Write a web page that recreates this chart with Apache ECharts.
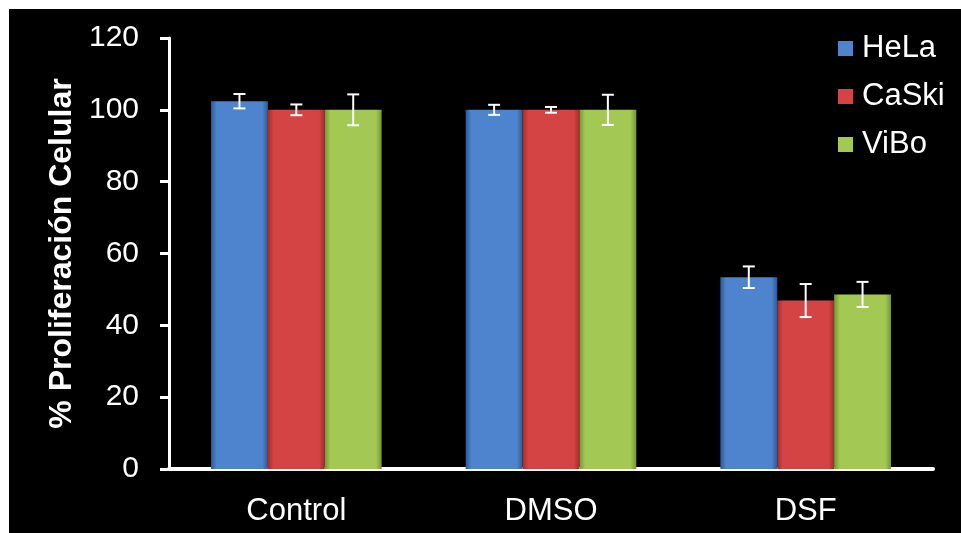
<!DOCTYPE html>
<html>
<head>
<meta charset="utf-8">
<script src="https://cdn.jsdelivr.net/npm/echarts@6/dist/echarts.min.js"></script>
<style>
html,body{margin:0;padding:0;background:#fff;width:961px;height:533px;overflow:hidden;}
#chart{position:absolute;left:9px;top:9px;width:952px;height:524px;background:#000;}
</style>
</head>
<body>
<div id="chart"></div>
<script>
const categories = ['Control', 'DMSO', 'DSF'];
const seriesNames = ['HeLa', 'CaSki', 'ViBo'];
const helaValues = [102.4, 100, 53.4];
const caskiValues = [100, 100, 46.9];
const viboValues = [100, 100, 48.6];
const helaErrors = [2.0, 1.4, 3.0];
const caskiErrors = [1.5, 0.8, 4.6];
const viboErrors = [4.3, 4.2, 3.5];
const yTicks = [0, 20, 40, 60, 80, 100, 120];

const values = [helaValues, caskiValues, viboValues];
const errors = [helaErrors, caskiErrors, viboErrors];
const colors = [
  {edge: '#2c5a96', mid: '#4d84cd', light: '#6a9be0'},
  {edge: '#a02c2c', mid: '#d54444', light: '#e46262'},
  {edge: '#769537', mid: '#a3c854', light: '#b8db6c'}
];
const FONT = 'Liberation Sans, Arial, sans-serif';

const chart = echarts.init(document.getElementById('chart'));
const barGapPct = 33;

function grad(c) {
  return new echarts.graphic.LinearGradient(0, 0, 1, 0, [
    {offset: 0, color: c.edge},
    {offset: 0.1, color: c.mid},
    {offset: 0.5, color: c.mid},
    {offset: 0.9, color: c.mid},
    {offset: 1, color: c.edge}
  ]);
}

const series = [];
seriesNames.forEach((name, i) => {
  series.push({
    name: name,
    type: 'bar',
    data: values[i],
    barGap: '0%',
    barCategoryGap: barGapPct + '%',
    itemStyle: {color: grad(colors[i])},
    z: 2
  });
});

seriesNames.forEach((name, i) => {
  series.push({
    type: 'custom',
    name: name + '_err',
    z: 5,
    silent: true,
    data: categories.map((c, j) => [j, values[i][j], errors[i][j]]),
    renderItem: function (params, api) {
      const idx = api.value(0);
      const v = api.value(1);
      const e = api.value(2);
      const bandW = api.size([1, 0])[0];
      const groupW = bandW * (1 - barGapPct / 100);
      const barW = groupW / 3;
      const center = api.coord([idx, 0])[0];
      const x = center - groupW / 2 + barW * (i + 0.5);
      const top = api.coord([idx, v + e])[1];
      const bot = api.coord([idx, v - e])[1];
      const cap = 6;
      const style = {stroke: '#ffffff', lineWidth: 2};
      return {
        type: 'group',
        children: [
          {type: 'line', shape: {x1: x, y1: top, x2: x, y2: bot}, style: style},
          {type: 'line', shape: {x1: x - cap, y1: top, x2: x + cap, y2: top}, style: style},
          {type: 'line', shape: {x1: x - cap, y1: bot, x2: x + cap, y2: bot}, style: style}
        ]
      };
    }
  });
});

chart.setOption({
  backgroundColor: '#000',
  animation: false,
  legend: {
    data: seriesNames.map((n, i) => ({name: n, itemStyle: {color: colors[i].mid}})),
    orient: 'vertical',
    left: 824,
    top: 19,
    itemWidth: 15,
    itemHeight: 15,
    itemGap: 17,
    icon: 'rect',
    textStyle: {color: '#fff', fontSize: 31, fontFamily: FONT, padding: [0, 0, 0, 4]}
  },
  grid: {left: 160, right: 28, top: 29, bottom: 64},
  xAxis: {
    type: 'category',
    data: categories,
    axisLine: {lineStyle: {color: '#fff', width: 4}},
    axisTick: {show: false},
    axisLabel: {color: '#fff', fontSize: 31, fontFamily: FONT, margin: 27}
  },
  yAxis: {
    type: 'value',
    min: yTicks[0],
    max: yTicks[yTicks.length - 1],
    interval: 20,
    name: '% Proliferación Celular',
    nameLocation: 'middle',
    nameGap: 91,
    nameTextStyle: {color: '#fff', fontSize: 32, fontWeight: 'bold', fontFamily: FONT},
    axisLine: {show: true, lineStyle: {color: '#fff', width: 3}},
    axisTick: {show: true, length: 9, lineStyle: {color: '#fff', width: 3}},
    splitLine: {show: false},
    axisLabel: {color: '#fff', fontSize: 30, fontFamily: FONT, margin: 30}
  },
  series: series
});
</script>
</body>
</html>
